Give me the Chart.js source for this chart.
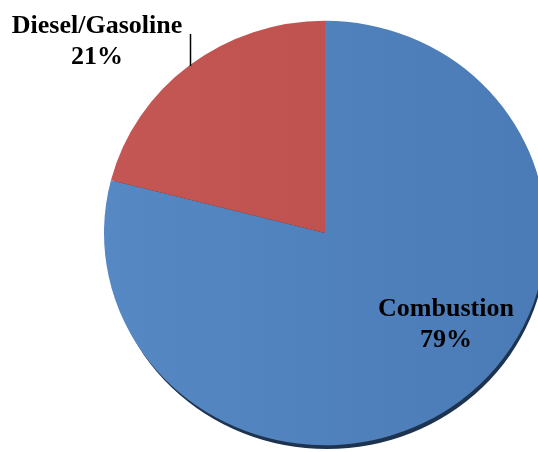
<!DOCTYPE html>
<html>
<head>
<meta charset="utf-8">
<script src="https://cdn.jsdelivr.net/npm/chart.js@4"></script>
<style>
    html, body { margin: 0; padding: 0; background: #fff; overflow: hidden; }
    #wrap { width: 538px; height: 452px; overflow: hidden; position: relative; }
    #fuelChart { position: absolute; left: 0; top: 0; }
</style>
</head>
<body>
<div id="wrap">
    <canvas id="fuelChart" width="560" height="460"></canvas>
</div>
<script>
const categories = ['Combustion', 'Diesel/Gasoline'];
const shares = [79, 21];
const sliceColors = [['#5688c3', '#4a7bb6'], ['#c45653', '#bb4e4b']];

// labels are drawn by hand, not by a datalabels plugin
const labelSpots = [
    { x: 446, y: 316 },
    { x: 97, y: 33 }
];

const tilt = 0.96;

function sliceFill(context) {
    const chart = context.chart;
    const area = chart.chartArea;
    if (!area) return sliceColors[context.dataIndex][0];
    const g = chart.ctx.createLinearGradient(area.left, 0, area.right, 0);
    g.addColorStop(0, sliceColors[context.dataIndex][0]);
    g.addColorStop(1, sliceColors[context.dataIndex][1]);
    return g;
}

const tiltPlugin = {
    id: 'tilt',
    beforeDatasetsDraw(chart) {
        const ctx = chart.ctx;
        const arc = chart.getDatasetMeta(0).data[0];
        const cx = arc.x, cy = arc.y, r = arc.outerRadius;
        ctx.save();
        ctx.translate(cx, cy);
        ctx.scale(1, tilt);
        ctx.translate(-cx, -cy);
        // dark rim peeking out under the lower edge
        ctx.save();
        ctx.fillStyle = '#1d3350';
        ctx.beginPath();
        ctx.arc(cx + 2, cy + 5, r - 1, 0, Math.PI * 2);
        ctx.fill();
        ctx.restore();
    },
    afterDatasetsDraw(chart) {
        chart.ctx.restore();
    }
};

const labelPlugin = {
    id: 'sliceLabels',
    afterDraw(chart) {
        const ctx = chart.ctx;
        ctx.save();
        ctx.fillStyle = '#000';
        ctx.font = 'bold 26px "Liberation Serif", "Times New Roman", serif';
        ctx.textAlign = 'center';
        ctx.textBaseline = 'alphabetic';
        categories.forEach(function (name, i) {
            const p = labelSpots[i];
            ctx.fillText(name, p.x, p.y);
            ctx.fillText(shares[i] + '%', p.x, p.y + 31);
        });
        // leader line for the small slice
        ctx.strokeStyle = '#000';
        ctx.lineWidth = 1.5;
        ctx.beginPath();
        ctx.moveTo(190.5, 34);
        ctx.lineTo(190.5, 66);
        ctx.stroke();
        ctx.restore();
    }
};

const ctx = document.getElementById('fuelChart').getContext('2d');
new Chart(ctx, {
    type: 'pie',
    data: {
        labels: categories,
        datasets: [{
            data: shares,
            backgroundColor: sliceFill,
            borderWidth: 0
        }]
    },
    options: {
        responsive: false,
        animation: false,
        layout: { padding: { left: 104, right: 14, top: 12, bottom: 6 } },
        plugins: {
            legend: { display: false },
            tooltip: { enabled: false }
        }
    },
    plugins: [tiltPlugin, labelPlugin]
});
</script>
</body>
</html>
